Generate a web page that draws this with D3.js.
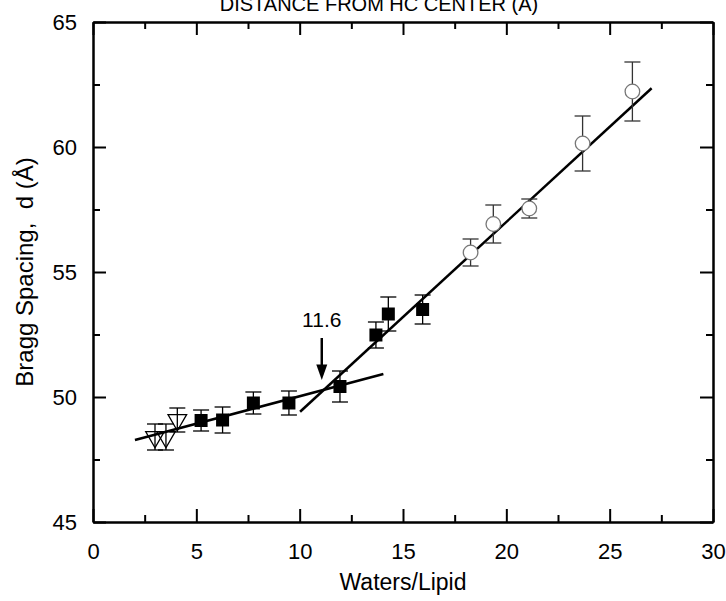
<!DOCTYPE html>
<html>
<head>
<meta charset="utf-8">
<script src="https://cdn.jsdelivr.net/npm/d3@7"></script>
<style>
  body { margin: 0; background: white; }
  text { font-family: 'Liberation Sans', Arial, sans-serif; fill: black; }
</style>
</head>
<body>
<script>
let margin = { top: 22, bottom: 79, left: 93, right: 13 }
let width = 726 - margin.left - margin.right
let height = 601 - margin.top - margin.bottom

// open down triangles
let triX = [3.0, 3.53, 4.08]
let triY = [48.4, 48.4, 49.08]
let triErr = [0.52, 0.52, 0.48]

// filled squares
let sqX = [5.23, 6.27, 7.76, 9.48, 11.95, 13.69, 14.29, 15.95]
let sqY = [49.06, 49.08, 49.76, 49.76, 50.42, 52.48, 53.32, 53.5]
let sqErr = [0.42, 0.52, 0.44, 0.48, 0.62, 0.52, 0.68, 0.58]

// open circles
let cirX = [18.27, 19.37, 21.11, 23.69, 26.1]
let cirY = [55.78, 56.92, 57.54, 60.14, 62.22]
let cirErr = [0.54, 0.76, 0.38, 1.1, 1.18]

// fit lines (end points)
let fitLow = [[2.03, 48.28], [14.05, 50.92]]
let fitHigh = [[10.02, 49.41], [27.03, 62.35]]

let breakX = 11.07
let breakLabel = '11.6'

let xMajor = [0, 5, 10, 15, 20, 25, 30]
let xMinor = [2.5, 7.5, 12.5, 17.5, 22.5, 27.5]
let yMajor = [45, 50, 55, 60, 65]
let yMinor = [47.5, 52.5, 57.5, 62.5]

let svg = d3.select('body')
    .append('svg')
        .attr('width', 726)
        .attr('height', 601)

let g = svg.append('g')
    .attr('transform', 'translate(' + margin.left + ',' + margin.top + ')')

let x = d3.scaleLinear().domain([0, 30]).range([0, width])
let y = d3.scaleLinear().domain([45, 65]).range([height, 0])

function styleAxis(sel){
    sel.selectAll('path').attr('stroke', 'black').attr('stroke-width', 2)
    sel.selectAll('line').attr('stroke', 'black').attr('stroke-width', 2)
    sel.selectAll('text').attr('font-size', 22).attr('font-family', "'Liberation Sans', Arial, sans-serif")
}

// bottom
g.append('g').attr('transform', 'translate(0,' + height + ')')
    .call(d3.axisBottom(x).tickValues(xMinor).tickSize(-7).tickSizeOuter(0).tickFormat(''))
    .call(styleAxis)
g.append('g').attr('transform', 'translate(0,' + height + ')')
    .call(d3.axisBottom(x).tickValues(xMajor).tickSize(-13).tickSizeOuter(0).tickPadding(21).tickFormat(d3.format('d')))
    .call(styleAxis)
// top
g.append('g')
    .call(d3.axisTop(x).tickValues(xMinor).tickSize(-7).tickSizeOuter(0).tickFormat(''))
    .call(styleAxis)
g.append('g')
    .call(d3.axisTop(x).tickValues(xMajor).tickSize(-13).tickSizeOuter(0).tickFormat(''))
    .call(styleAxis)
// left
g.append('g')
    .call(d3.axisLeft(y).tickValues(yMinor).tickSize(-7).tickSizeOuter(0).tickFormat(''))
    .call(styleAxis)
g.append('g')
    .call(d3.axisLeft(y).tickValues(yMajor).tickSize(-13).tickSizeOuter(0).tickPadding(16).tickFormat(d3.format('d')))
    .call(styleAxis)
// right
g.append('g').attr('transform', 'translate(' + width + ',0)')
    .call(d3.axisRight(y).tickValues(yMinor).tickSize(-7).tickSizeOuter(0).tickFormat(''))
    .call(styleAxis)
g.append('g').attr('transform', 'translate(' + width + ',0)')
    .call(d3.axisRight(y).tickValues(yMajor).tickSize(-13).tickSizeOuter(0).tickFormat(''))
    .call(styleAxis)

// fit lines
let line = d3.line().x(d => x(d[0])).y(d => y(d[1]))
g.selectAll('.fit')
    .data([fitLow, fitHigh])
    .enter()
    .append('path')
        .attr('class', 'fit')
        .attr('d', line)
        .attr('fill', 'none')
        .attr('stroke', 'black')
        .attr('stroke-width', 2.5)

function toPoints(xs, ys, es){
    return xs.map((v, i) => ({ x: v, y: ys[i], e: es[i] }))
}
let tri = toPoints(triX, triY, triErr)
let sq = toPoints(sqX, sqY, sqErr)
let cir = toPoints(cirX, cirY, cirErr)

// error bars
function errorBars(data, color){
    let eb = g.append('g').attr('stroke', color).attr('stroke-width', 1.3)
    eb.selectAll('.v').data(data).enter().append('line')
        .attr('x1', d => x(d.x)).attr('x2', d => x(d.x))
        .attr('y1', d => y(d.y - d.e)).attr('y2', d => y(d.y + d.e))
    eb.selectAll('.t').data(data).enter().append('line')
        .attr('x1', d => x(d.x) - 8).attr('x2', d => x(d.x) + 8)
        .attr('y1', d => y(d.y + d.e)).attr('y2', d => y(d.y + d.e))
    eb.selectAll('.b').data(data).enter().append('line')
        .attr('x1', d => x(d.x) - 8).attr('x2', d => x(d.x) + 8)
        .attr('y1', d => y(d.y - d.e)).attr('y2', d => y(d.y - d.e))
}
errorBars(tri, 'black')
errorBars(sq, 'black')
errorBars(cir, '#333')

g.selectAll('.tri')
    .data(tri)
    .enter()
    .append('path')
        .attr('d', d3.symbol().type(d3.symbolTriangle).size(150))
        .attr('transform', d => 'translate(' + x(d.x) + ',' + y(d.y) + ') rotate(180)')
        .attr('fill', 'none')
        .attr('stroke', 'black')
        .attr('stroke-width', 1.3)

g.selectAll('.sq')
    .data(sq)
    .enter()
    .append('rect')
        .attr('x', d => x(d.x) - 6.5)
        .attr('y', d => y(d.y) - 6.5)
        .attr('width', 13)
        .attr('height', 13)
        .attr('fill', 'black')

g.selectAll('.cir')
    .data(cir)
    .enter()
    .append('circle')
        .attr('cx', d => x(d.x))
        .attr('cy', d => y(d.y))
        .attr('r', 7.3)
        .attr('fill', 'white')
        .attr('stroke', '#777')
        .attr('stroke-width', 1.3)

// break arrow
let ax = x(breakX)
g.append('line')
    .attr('x1', ax).attr('x2', ax)
    .attr('y1', y(52.36)).attr('y2', y(51.2))
    .attr('stroke', 'black').attr('stroke-width', 2.5)
g.append('path')
    .attr('d', 'M' + (ax - 5.5) + ',' + y(51.3) + 'L' + (ax + 5.5) + ',' + y(51.3) + 'L' + ax + ',' + y(50.68) + 'Z')
    .attr('fill', 'black')
g.append('text')
    .attr('x', ax)
    .attr('y', y(52.81))
    .attr('text-anchor', 'middle')
    .attr('font-size', 21)
    .text(breakLabel)

// titles
svg.append('text')
    .attr('x', 379)
    .attr('y', 11)
    .attr('text-anchor', 'middle')
    .attr('font-size', 20)
    .text('DISTANCE FROM HC CENTER (Å)')

svg.append('text')
    .attr('x', margin.left + width / 2)
    .attr('y', 590)
    .attr('text-anchor', 'middle')
    .attr('font-size', 23)
    .text('Waters/Lipid')

svg.append('text')
    .attr('transform', 'translate(33,' + (margin.top + height / 2) + ') rotate(-90)')
    .attr('text-anchor', 'middle')
    .attr('font-size', 24)
    .style('white-space', 'pre')
    .text('Bragg Spacing,  d (Å)')
</script>
</body>
</html>
